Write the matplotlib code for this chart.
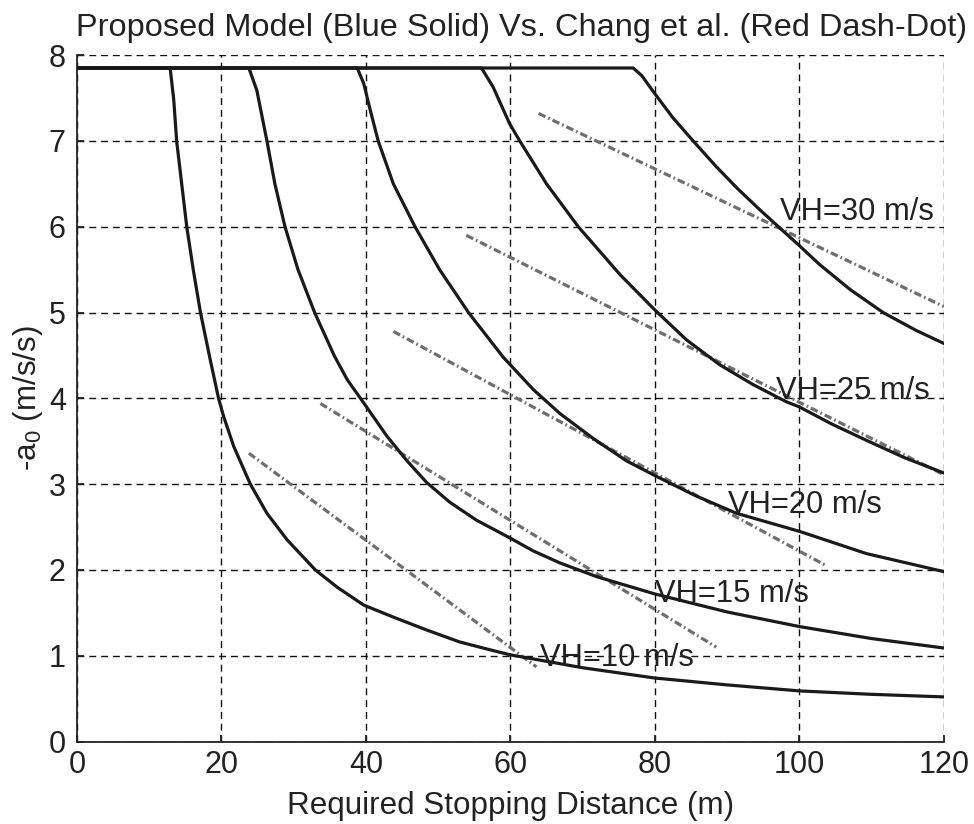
import matplotlib
matplotlib.use("Agg")
import matplotlib.pyplot as plt

plt.rcParams['font.family'] = ['Liberation Sans', 'DejaVu Sans']
plt.rcParams['mathtext.fontset'] = 'custom'
plt.rcParams['mathtext.rm'] = 'Liberation Sans'
plt.rcParams['mathtext.it'] = 'Liberation Sans'
plt.rcParams['lines.scale_dashes'] = False

# ---- Data ----
title = "Proposed Model (Blue Solid) Vs. Chang et al. (Red Dash-Dot)"
xlabel = "Required Stopping Distance (m)"
ylabel = r"-a$_{\mathregular{0}}$ (m/s/s)"

vh10_x = [0, 12.9, 13.4, 13.8, 14.5, 15.2, 16.1, 17.1, 18.4, 19.6, 20.3, 21.7, 24.0, 26.3, 29.1,
          33.0, 36.0, 39.7, 43.8, 48.4, 53.0, 57.6, 60, 70, 80, 90, 100, 110, 120]
vh10_y = [7.85, 7.85, 7.48, 7.0, 6.5, 6.0, 5.5, 5.0, 4.47, 4.0, 3.79, 3.44, 3.0, 2.66, 2.35,
          2.0, 1.80, 1.59, 1.45, 1.30, 1.16, 1.06, 1.01, 0.86, 0.74, 0.66, 0.59, 0.55, 0.52]

vh15_x = [0, 23.8, 24.9, 26.3, 27.4, 28.8, 30.6, 32.9, 35.6, 37.4, 40.0, 42.9, 45.6, 48.4, 51.6,
          55.3, 60, 63.2, 66.9, 72, 80, 90, 100, 110, 120]
vh15_y = [7.85, 7.85, 7.59, 7.0, 6.5, 6.0, 5.5, 5.0, 4.5, 4.22, 3.91, 3.56, 3.28, 3.02, 2.79,
          2.58, 2.37, 2.22, 2.08, 1.92, 1.72, 1.51, 1.34, 1.20, 1.09]

vh20_x = [0, 38.8, 39.7, 40.6, 41.7, 43.8, 46.8, 50.2, 54.2, 59.0, 63.2, 66.9, 71.5, 76.1, 80,
          85.5, 91.3, 100, 109.3, 120]
vh20_y = [7.85, 7.85, 7.67, 7.36, 7.0, 6.5, 6.0, 5.5, 5.0, 4.48, 4.1, 3.82, 3.53, 3.27, 3.10,
          2.87, 2.66, 2.45, 2.19, 1.98]

vh25_x = [0, 56.0, 57.6, 59.9, 61.3, 65.0, 69.4, 75.2, 80.0, 84.4, 89.0, 93.6, 98.2, 100,
          104.5, 109.3, 114.5, 120]
vh25_y = [7.85, 7.85, 7.63, 7.2, 7.0, 6.5, 6.0, 5.44, 5.03, 4.68, 4.39, 4.16, 3.96, 3.90,
          3.70, 3.51, 3.31, 3.13]

vh30_x = [0, 77.0, 78.2, 80, 82.5, 85.3, 88.5, 91.5, 94.5, 97.5, 100, 102.8, 107.0, 111.6,
          116.2, 120]
vh30_y = [7.85, 7.85, 7.76, 7.55, 7.27, 7.0, 6.70, 6.44, 6.20, 5.97, 5.78, 5.56, 5.27, 5.0,
          4.79, 4.64]

chang10_x = [23.8, 63.6]
chang10_y = [3.36, 0.87]
chang15_x = [33.7, 88.5]
chang15_y = [3.94, 1.10]
chang20_x = [43.8, 103.5]
chang20_y = [4.78, 2.06]
chang25_x = [53.9, 120]
chang25_y = [5.90, 3.11]
chang30_x = [63.9, 120]
chang30_y = [7.32, 5.07]

labels = ["VH=10 m/s", "VH=15 m/s", "VH=20 m/s", "VH=25 m/s", "VH=30 m/s"]
label_x = [64.1, 80.0, 90.1, 96.8, 97.3]
label_y = [0.97, 1.72, 2.76, 4.08, 6.17]

xticks = [0, 20, 40, 60, 80, 100, 120]
yticks = [0, 1, 2, 3, 4, 5, 6, 7, 8]

# ---- Plot ----
fig = plt.figure(figsize=(9.74, 8.24), dpi=100)
ax = fig.add_axes([0.079, 0.1001, 0.890, 0.8330])

solid_color = '#1a1a1a'
dash_color = '#6e6e6e'
ddash = (0, (5.5, 2.2, 1.2, 2.2))

for xs, ys in [(vh10_x, vh10_y), (vh15_x, vh15_y), (vh20_x, vh20_y),
               (vh25_x, vh25_y), (vh30_x, vh30_y)]:
    ax.plot(xs, ys, color=solid_color, lw=2.3, solid_joinstyle='round', zorder=3)

for xs, ys in [(chang10_x, chang10_y), (chang15_x, chang15_y), (chang20_x, chang20_y),
               (chang25_x, chang25_y), (chang30_x, chang30_y)]:
    ax.plot(xs, ys, color=dash_color, lw=2.3, linestyle=ddash, zorder=2)

for t, lx, ly in zip(labels, label_x, label_y):
    ax.text(lx, ly, t, fontsize=22.3, color='#222222', ha='left', va='center', zorder=4)

ax.set_xlim(0, 120)
ax.set_ylim(0, 8)
ax.set_xticks(xticks)
ax.set_yticks(yticks)
ax.grid(True, color='#111111', linestyle=(0, (5, 3.5)), linewidth=1.0)
ax.set_axisbelow(True)

for s in ['top', 'right']:
    ax.spines[s].set_visible(False)
for s in ['left', 'bottom']:
    ax.spines[s].set_linewidth(1.3)
    ax.spines[s].set_color('#222222')

ax.tick_params(direction='in', length=5, width=1.3, colors='#222222', labelsize=22, pad=6)
ax.tick_params(axis='y', pad=8)

ax.set_title(title, fontsize=23.4, color='#222222', pad=14, x=0.5127)
ax.set_xlabel(xlabel, fontsize=22.6, color='#222222', labelpad=8)
ax.set_ylabel(ylabel, fontsize=22.6, color='#222222', labelpad=3)

fig.savefig("out.png", dpi=100)
